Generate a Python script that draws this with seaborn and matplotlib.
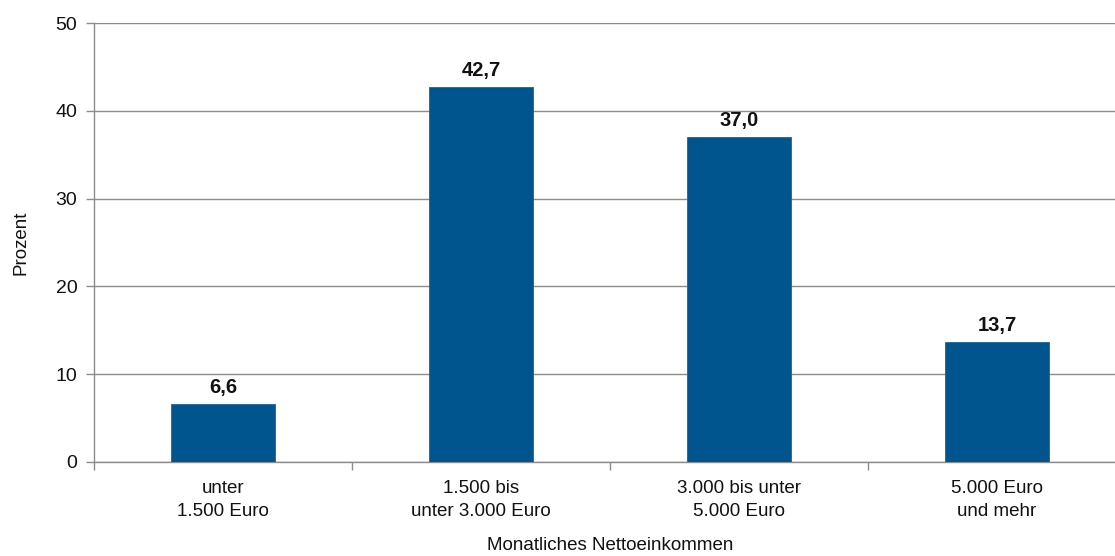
import matplotlib
matplotlib.use("Agg")
import matplotlib.pyplot as plt
import seaborn as sns
import pandas as pd

categories = ["unter\n1.500 Euro", "1.500 bis\nunter 3.000 Euro",
              "3.000 bis unter\n5.000 Euro", "5.000 Euro\nund mehr"]
values = [6.6, 42.7, 37.0, 13.7]
value_labels = ["6,6", "42,7", "37,0", "13,7"]
y_ticks = [0, 10, 20, 30, 40, 50]

sns.set_theme(style="white")
plt.rcParams["font.family"] = ["Liberation Sans", "DejaVu Sans"]

df = pd.DataFrame({"Kategorie": categories, "Prozent": values})

fig = plt.figure(figsize=(11.15, 5.56), dpi=100)
ax = fig.add_axes([94 / 1115, 94 / 556, 1032 / 1115, 439 / 556])

grid_col = "#8c8c8c"
text_col = "#111111"
sns.barplot(data=df, x="Kategorie", y="Prozent", color="#00558f",
            width=0.40, saturation=1, edgecolor="#1a6699", linewidth=0.6, ax=ax, zorder=3)

ax.set_ylim(0, 50)
ax.set_xlim(-0.5, 3.5)
ax.set_yticks(y_ticks)
ax.set_yticklabels([str(t) for t in y_ticks], fontsize=14, color=text_col)
ax.yaxis.grid(True, color=grid_col, linewidth=1.0, zorder=0)
ax.set_axisbelow(True)

ax.set_xticks(range(len(categories)))
ax.set_xticklabels(categories, fontsize=13.5, color=text_col, linespacing=1.45)
ax.set_xticks([-0.5, 0.5, 1.5, 2.5, 3.5], minor=True)
ax.tick_params(axis="x", which="major", length=0, pad=13)
ax.tick_params(axis="x", which="minor", length=6, width=1, color=grid_col, bottom=True)
ax.tick_params(axis="y", which="major", length=6, width=1, color=grid_col, left=True, pad=6)

for side in ["top", "right"]:
    ax.spines[side].set_visible(False)
for side in ["left", "bottom"]:
    ax.spines[side].set_color(grid_col)
    ax.spines[side].set_linewidth(1.0)

ax.set_ylabel("Prozent", fontsize=13.5, color=text_col, labelpad=19)
ax.set_xlabel("Monatliches Nettoeinkommen", fontsize=13.5, color=text_col, labelpad=12)

for i, (v, lab) in enumerate(zip(values, value_labels)):
    ax.annotate(lab, (i, v), xytext=(0, 5), textcoords="offset points",
                ha="center", va="bottom", fontsize=14.5, fontweight="bold", color=text_col)

fig.savefig("out.png", dpi=100)
